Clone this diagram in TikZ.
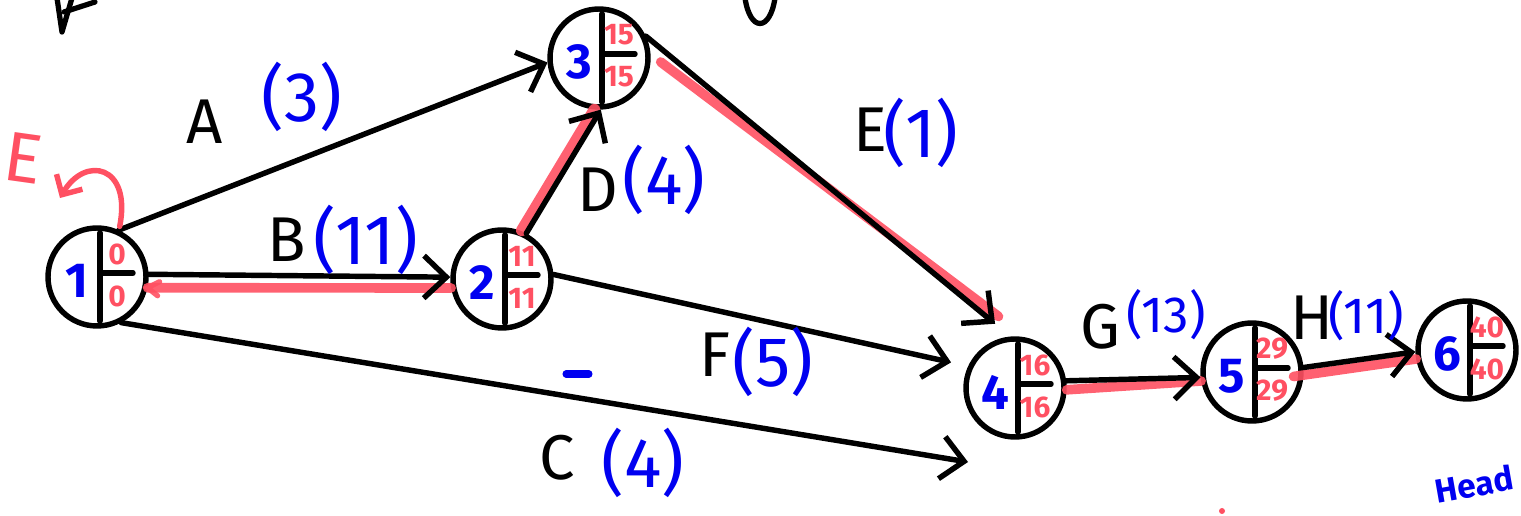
\documentclass[tikz,border=0pt]{standalone}
\usepackage{fontspec}
\setmainfont{Fira Sans}
\usetikzlibrary{arrows.meta,calc}
\definecolor{penred}{HTML}{FF5062}
\definecolor{penblue}{HTML}{0000F0}
\tikzset{
  ink/.style={line width=3.1pt, line cap=round, line join=round},
  pnode/.style={circle, draw, ink, minimum size=1.96cm, inner sep=0pt},
  edge/.style={ink, -{Straight Barb[length=0.45cm,width=0.85cm,line width=3.1pt]}},
  crit/.style={penred, line width=5.5pt, line cap=round, opacity=0.9},
  lbl/.style={font=\fontsize{36}{40}\selectfont, inner sep=1pt},
  dur/.style={font=\fontsize{40}{44}\selectfont, text=penblue, inner sep=1pt},
  durs/.style={font=\fontsize{29}{32}\selectfont, text=penblue, inner sep=1pt},
  num/.style={font=\fontsize{28}{30}\selectfont\bfseries, text=penblue},
  est/.style={font=\fontsize{17}{19}\selectfont\bfseries, text=penred},
}
\newcommand\pertnode[6]{%
  \node[pnode] (#1) at (#2,#3) {};
  \draw[ink] ($(#1)+(3,-44)$) -- ($(#1)+(3,44)$);
  \draw[ink] ($(#1)+(3,-4)$) -- ($(#1)+(36,-4)$);
  \node[num] (#1l) at ($(#1)+(-20,4)$) {#4};
  \node[est] (#1t) at ($(#1)+(20,-23)$) {#5};
  \node[est] (#1b) at ($(#1)+(20,19)$) {#6};
}
\begin{document}
\begin{tikzpicture}[x=0.02cm,y=-0.02cm]
\useasboundingbox (0,0) rectangle (1521,516);

% nodes
\pertnode{n1}{97}{277}{1}{0}{0}
\pertnode{n2}{502}{279}{2}{11}{11}
\pertnode{n3}{599}{58}{3}{15}{15}
\pertnode{n4}{1015}{388}{4}{16}{16}
\pertnode{n5}{1252}{372}{5}{29}{29}
\pertnode{n6}{1467}{350}{6}{40}{40}
\coordinate (c4) at (968,462);

% critical path (under the ink)
\draw[crit] (n1.-12) -- (n2.190);
\draw[crit, line width=3pt] ($(n1.-12)+(12,-6)$) -- (n1.-12) -- ($(n1.-12)+(10,8)$);
\draw[crit, line width=6.5pt] ($(n2.70)+(2,0)$) -- (n3.-95);
\draw[crit] ($(n3.0)+(10,4)$) -- ($(n4.95)+(-12,-20)$);
\draw[crit] (n4.-2) -- (n5.190);
\draw[crit] ($(n5.-5)+(-10,0)$) -- (n6.190);

% activities
\draw[edge] (n1.65) -- (n3.185);
\draw[edge] (n1.3) -- (n2.178);
\draw[edge] (n1.-62) -- (c4);
\draw[edge] (n2.62) -- (n3.-88);
\draw[edge, shorten >=0.35cm] (n2.5) -- (n4.155);
\draw[edge, shorten >=0.4cm] (n3.25) -- (n4.95);
\draw[edge] (n4.8) -- (n5.186);
\draw[edge] (n5.5) -- (n6.182);

% labels
\node[lbl] (la) at (205,122) {A};
\node[dur] (da) at (302,97) {(3)};
\node[lbl] (lb) at (287,240) {B};
\node[dur] (db) at (366,240) {(11)};
\node[lbl] (ld) at (598,190) {D};
\node[dur] (dd) at (664,180) {(4)};
\node[lbl] (le) at (870,130) {E};
\node[dur] (de) at (921,133) {(1)};
\node[lbl] (lf) at (715,355) {F};
\node[dur] (df) at (773,362) {(5)};
\node[lbl] (lc) at (557,458) {C};
\node[dur] (dc) at (643,463) {(4)};
\node[lbl] (lg) at (1100,327) {G};
\node[durs] (dg) at (1166,315) {(13)};
\node[lbl] (lh) at (1312,318) {H};
\node[durs] (dh) at (1366,316) {(11)};

% red annotation at node 1
\node[text=penred, font=\fontsize{40}{42}\selectfont, rotate=-8] (redE) at (23,158) {E};
\draw[penred, ink, -{Straight Barb[length=0.3cm,width=0.6cm,line width=3.1pt]}]
  ($(n1.70)+(5,-2)$) .. controls (132,165) and (85,155) .. (60,198);

% stray marks
\draw[penblue, line width=4pt, line cap=round] (566,374) -- (589,374);
\draw[ink, line width=3pt] (57,-2) -- (62,32) -- (72,-2);
\draw[ink, line width=3pt] (64,12) -- (95,2);
\draw[ink, line width=3pt] (745,-2) .. controls (750,32) and (770,32) .. (775,-2);
\node[text=penblue, font=\fontsize{19}{21}\selectfont\bfseries, rotate=10] (head) at (1474,484) {Head};
\fill[penred] (1222,511) circle (3);
\end{tikzpicture}
\end{document}
